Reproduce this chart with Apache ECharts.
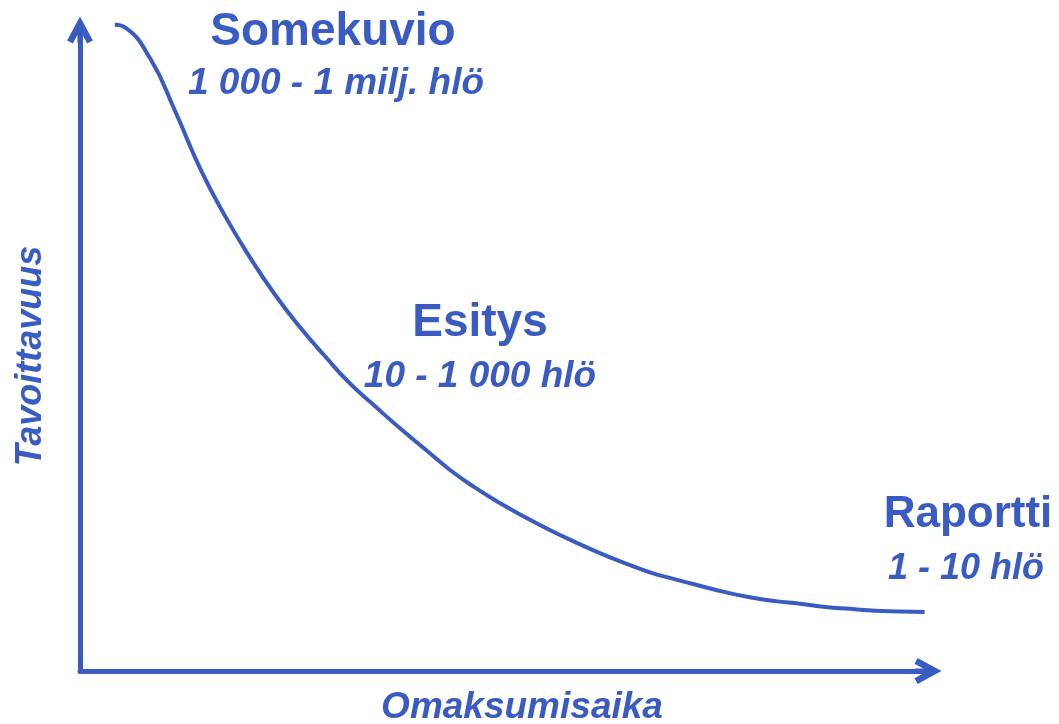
<!DOCTYPE html>
<html>
<head>
<meta charset="utf-8">
<title>Tavoittavuus ja omaksumisaika</title>
<script src="https://cdn.jsdelivr.net/npm/echarts@6/dist/echarts.min.js"></script>
<style>
  html, body { margin: 0; padding: 0; background: #ffffff; }
  #chart { width: 1059px; height: 724px; }
</style>
</head>
<body>
<div id="chart"></div>
<script>
"use strict";

// Curve (x = omaksumisaika, y = tavoittavuus, both 0..100)
var curveX = [4.1, 5.3, 8.3, 11.2, 14.2, 17.1, 20.1, 23.0, 25.9, 28.9, 31.8, 34.8, 37.7, 40.7, 43.6, 46.6, 49.5,
              52.5, 55.4, 58.4, 61.3, 64.3, 67.2, 70.2, 73.1, 76.1, 79.0, 82.0, 84.9, 87.9, 90.8, 93.8, 96.7, 99.6];
var curveY = [100.8, 100.4, 95.5, 87.4, 78.3, 71.0, 64.4, 58.7, 53.7, 49.1, 44.9, 41.3, 37.9, 34.6, 31.4, 28.6, 26.2,
              24.0, 22.0, 20.1, 18.4, 16.8, 15.4, 14.3, 13.3, 12.3, 11.5, 10.9, 10.5, 10.0, 9.7, 9.4, 9.3, 9.2];

var headings = ["Somekuvio", "Esitys", "Raportti"];
var audiences = ["1 000 - 1 milj. hlö", "10 - 1 000 hlö", "1 - 10 hlö"];
var xName = "Omaksumisaika";
var yName = "Tavoittavuus";

var blue = "#3a5bc1";
var font = "Liberation Sans, Arial, sans-serif";

// open arrow head (chevron + short stem), points up before rotation
var arrowPath = "path://M13 0 L25.86 23.8 L20.14 26.89 L15.5 18.3 L15.5 26.89 L10.5 26.89 " +
                "L10.5 18.3 L5.86 26.89 L0.14 23.8 Z";

var points = [];
for (var i = 0; i < curveX.length; i++) {
    points.push([curveX[i], curveY[i]]);
}

function label(text, x, y, size, italic) {
    return {
        type: "text",
        x: x,
        y: y,
        style: {
            text: text,
            fill: blue,
            font: (italic ? "italic " : "") + "bold " + size + "px " + font,
            align: "center",
            verticalAlign: "middle"
        }
    };
}

var axisLine = {
    show: true,
    symbol: ["none", arrowPath],
    symbolSize: [26, 27],
    lineStyle: { color: blue, width: 5, cap: "round" }
};

var myChart = echarts.init(document.getElementById("chart"));

var option = {
    backgroundColor: "#ffffff",
    animation: false,
    grid: { left: 80, right: 131, top: 30, bottom: 53 },
    xAxis: {
        type: "value",
        min: 0,
        max: 100,
        axisLine: axisLine,
        axisTick: { show: false },
        axisLabel: { show: false },
        splitLine: { show: false }
    },
    yAxis: {
        type: "value",
        min: 0,
        max: 100,
        axisLine: axisLine,
        axisTick: { show: false },
        axisLabel: { show: false },
        splitLine: { show: false }
    },
    series: [{
        type: "line",
        data: points,
        smooth: 0.5,
        clip: false,
        showSymbol: false,
        lineStyle: { color: blue, width: 4 }
    }],
    graphic: [
        label(headings[0], 333, 32, 46, false),
        label(audiences[0], 336, 84, 37, true),
        label(headings[1], 480, 323, 46, false),
        label(audiences[1], 480, 377, 37, true),
        label(headings[2], 968, 515, 44, false),
        label(audiences[2], 966, 569, 36, true),
        label(xName, 522, 708, 37, true),
        {
            type: "text",
            x: 31,
            y: 356,
            rotation: Math.PI / 2,
            style: {
                text: yName,
                fill: blue,
                font: "italic bold 36px " + font,
                align: "center",
                verticalAlign: "middle"
            }
        }
    ]
};

myChart.setOption(option);
</script>
</body>
</html>
